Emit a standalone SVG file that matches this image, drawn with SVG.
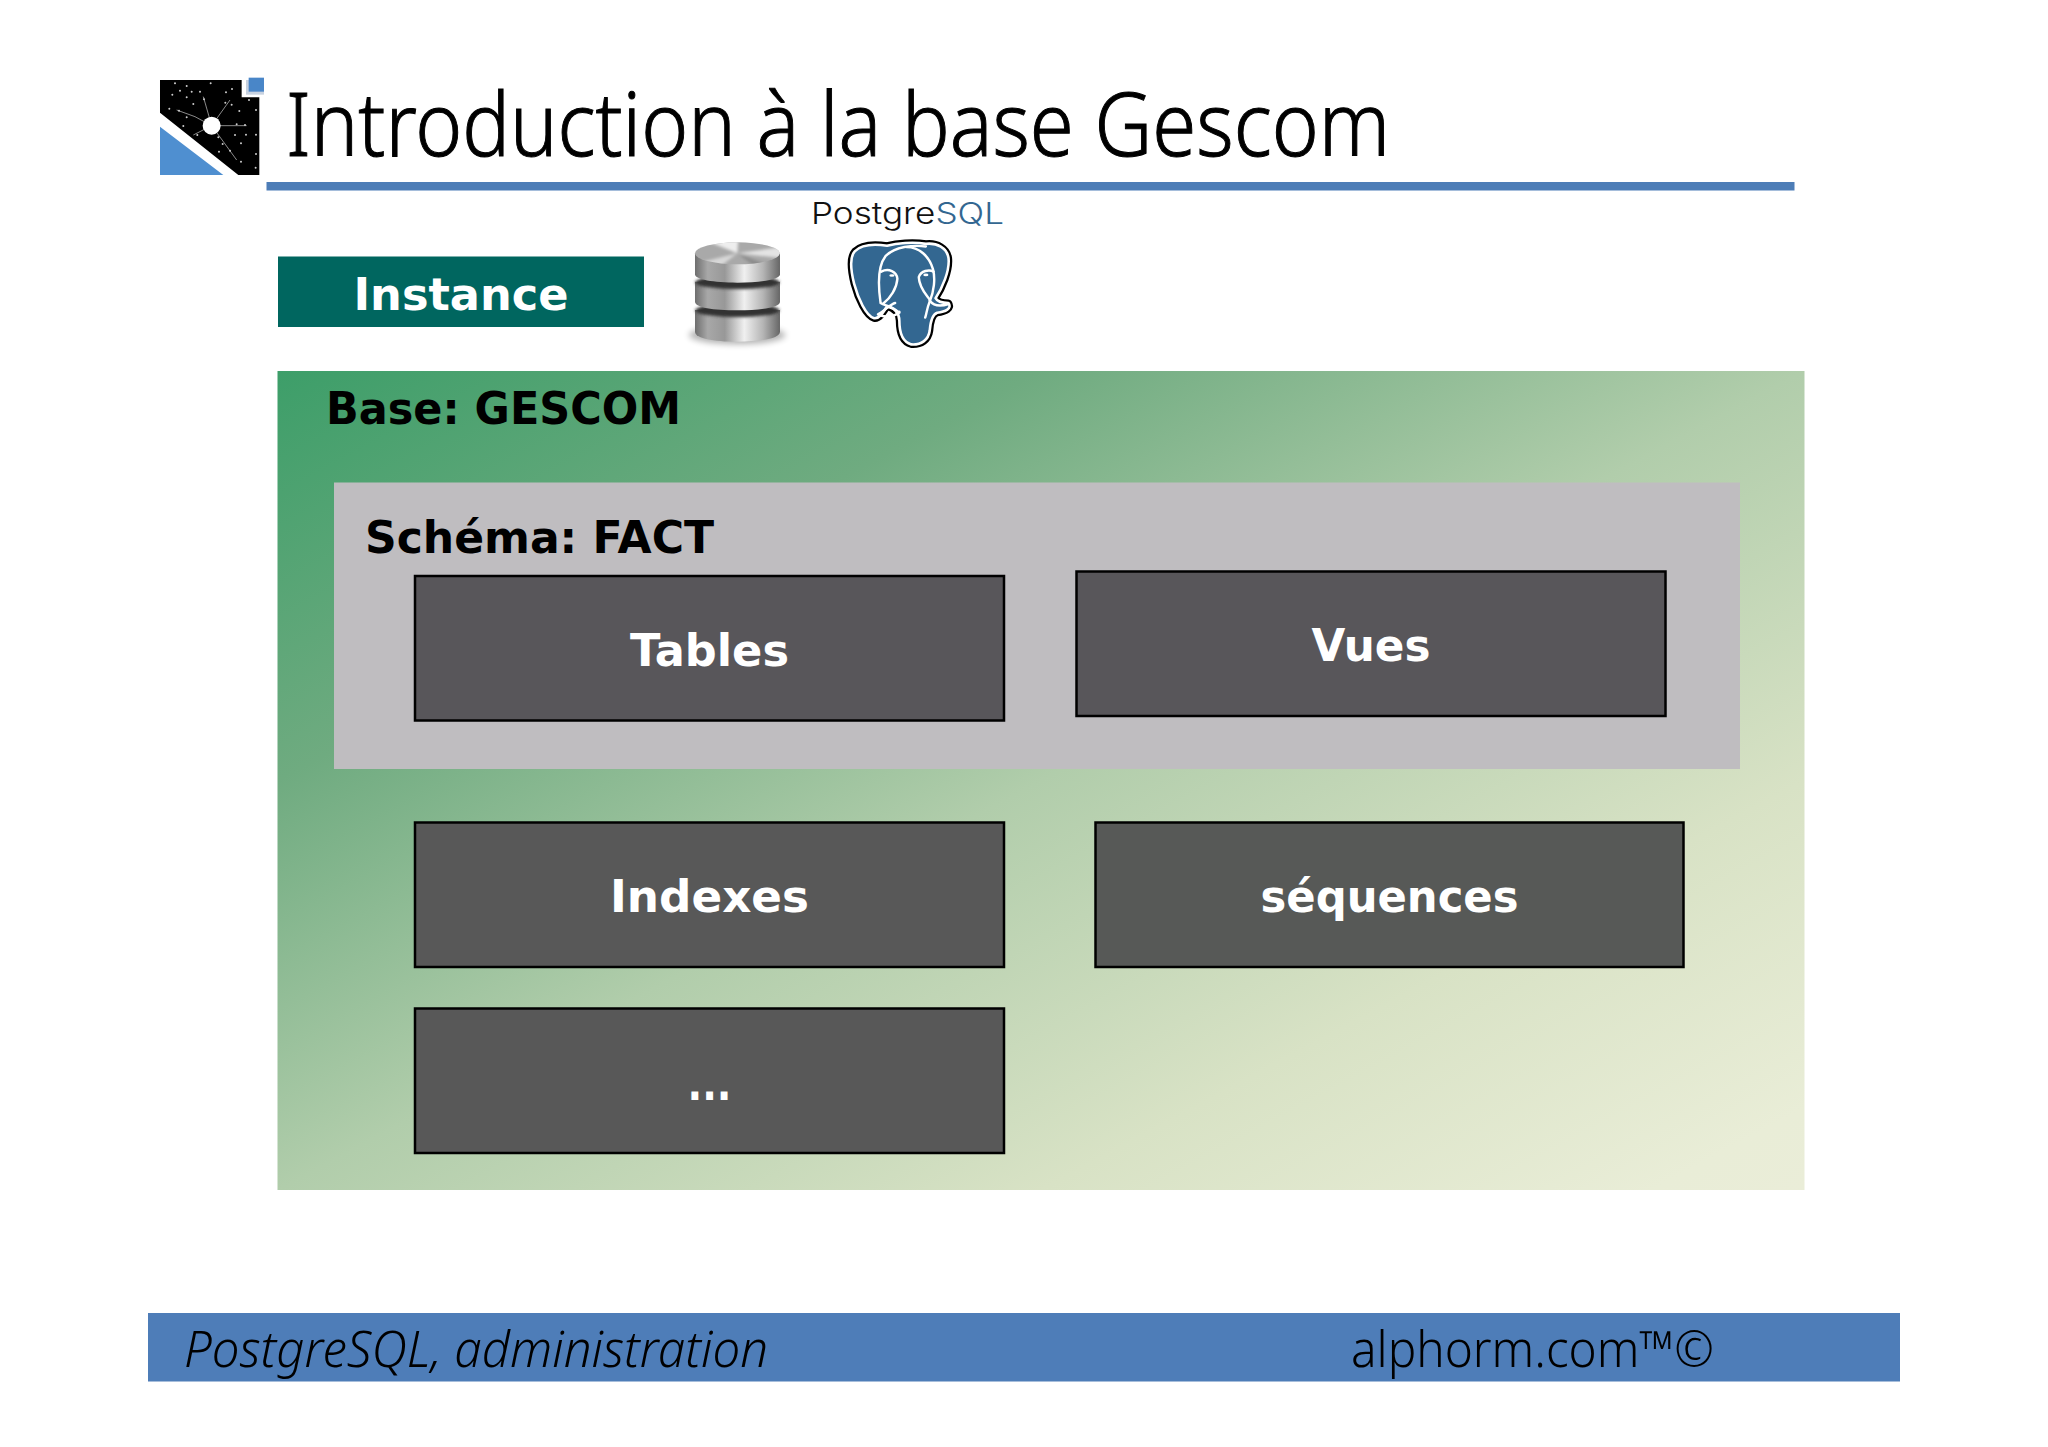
<svg xmlns="http://www.w3.org/2000/svg" width="2048" height="1447" viewBox="0 0 2048 1447">
<style>
.lbl{font-family:"DejaVu Sans",Verdana,sans-serif;font-weight:700;font-size:44px;fill:#fff;text-anchor:middle}
.hd{font-family:"DejaVu Sans",Verdana,sans-serif;font-weight:700;font-size:44px;fill:#000}
.box{stroke:#000;stroke-width:2.5}
.ft{font-family:"Noto Sans","Open Sans",sans-serif;font-size:50px;font-weight:300;fill:#000}
.inner{fill:none;stroke:#fff;stroke-width:7.500;stroke-linecap:round;stroke-linejoin:round}
</style>
<defs>
<linearGradient id="panel" x1="0" y1="0" x2="1" y2="1">
<stop offset="0" stop-color="#3d9e69"/><stop offset=".25" stop-color="#6fab80"/><stop offset=".5" stop-color="#b1cdab"/><stop offset=".75" stop-color="#d8e2c5"/><stop offset=".95" stop-color="#e9edd7"/><stop offset="1" stop-color="#eaedd8"/>
</linearGradient>
<linearGradient id="metal" x1="0" y1="0" x2="1" y2="0">
<stop offset="0" stop-color="#6e6e6e"/><stop offset=".15" stop-color="#a8a8a8"/><stop offset=".35" stop-color="#989898"/><stop offset=".58" stop-color="#f0f0f0"/><stop offset=".8" stop-color="#b5b5b5"/><stop offset="1" stop-color="#666"/>
</linearGradient>
<path id="elephant-shape" d="M140 28C100 22 60 25 40 45C22 65 28 105 38 145C50 190 75 245 100 252C115 255 128 235 140 215C165 222 178 235 178 260C178 290 185 325 215 333C245 335 268 320 272 290C274 265 280 240 295 235C320 232 342 222 330 205C305 205 295 200 290 190C310 160 335 105 330 65C325 35 295 18 260 22C220 15 170 20 140 28Z"/>
<clipPath id="lidclip"><ellipse cx="172" cy="55" rx="127" ry="33"/></clipPath>
<filter id="soft" x="-20%" y="-20%" width="140%" height="140%"><feGaussianBlur stdDeviation="1"/></filter>
<filter id="soft2" x="-20%" y="-20%" width="140%" height="140%"><feGaussianBlur stdDeviation="4"/></filter>
<filter id="shadow" x="-20%" y="-100%" width="140%" height="300%"><feGaussianBlur stdDeviation="10"/></filter>
</defs>
<rect width="2048" height="1447" fill="#fff"/>

<g id="corner-logo" transform="translate(140 60) scale(.3333)" filter="url(#soft)">
<polygon points="60,60 305,60 305,112 358,112 358,345 295,345 60,158" fill="#000"/>
<polygon points="60,200 250,345 60,345" fill="#4f8fd0"/>
<rect x="318" y="60" width="54" height="44" fill="#c8d2e0"/>
<rect x="326" y="53" width="46" height="42" fill="#4a86c8"/>
<g stroke="#8a8a8a" stroke-width="3" fill="none">
<path d="M215 197L190 110M215 197L165 170L110 150M215 197L270 120M215 197H320M215 197L290 300M215 197L160 225"/>
</g>
<circle cx="215" cy="197" r="27" fill="#fff"/>
<g fill="#ccc">
<circle cx="105" cy="70" r="3"/><circle cx="140" cy="78" r="3"/><circle cx="212" cy="70" r="3"/><circle cx="120" cy="92" r="3"/><circle cx="155" cy="95" r="3"/><circle cx="180" cy="95" r="3"/><circle cx="97" cy="104" r="3"/><circle cx="258" cy="97" r="3"/><circle cx="276" cy="87" r="3"/><circle cx="140" cy="112" r="3"/><circle cx="192" cy="118" r="3"/><circle cx="160" cy="132" r="3"/><circle cx="256" cy="128" r="3"/><circle cx="275" cy="134" r="3"/><circle cx="327" cy="120" r="3"/><circle cx="88" cy="146" r="3"/><circle cx="117" cy="152" r="3"/><circle cx="298" cy="153" r="3"/><circle cx="348" cy="150" r="3"/><circle cx="140" cy="172" r="3"/><circle cx="290" cy="193" r="3"/><circle cx="315" cy="195" r="3"/><circle cx="130" cy="198" r="3"/><circle cx="172" cy="225" r="3"/><circle cx="285" cy="225" r="3"/><circle cx="318" cy="224" r="3"/><circle cx="348" cy="224" r="3"/><circle cx="235" cy="232" r="3"/><circle cx="248" cy="252" r="3"/><circle cx="303" cy="250" r="3"/><circle cx="237" cy="275" r="3"/><circle cx="270" cy="272" r="3"/><circle cx="348" cy="282" r="3"/><circle cx="303" cy="305" r="3"/><circle cx="347" cy="323" r="3"/>
</g>
</g>

<g id="title">
<text x="286" y="156" font-family="'Noto Sans','Open Sans',sans-serif" font-weight="300" font-size="88" textLength="1104" lengthAdjust="spacingAndGlyphs" fill="#000" stroke="#000" stroke-width="1">Introduction à la base Gescom</text>
<rect x="266.500" y="182" width="1528" height="8.500" fill="#4d7db7"/>
</g>

<g id="instance">
<rect x="278" y="256.500" width="366" height="70.500" fill="#00665f"/>
<text class="lbl" x="461" y="310" textLength="215" lengthAdjust="spacingAndGlyphs">Instance</text>
</g>

<g id="database-icon" transform="translate(680 235) scale(.3333)">
<ellipse cx="172" cy="300" rx="145" ry="28" fill="#000" opacity=".3" filter="url(#shadow)"/>
<path d="M45 225V290C45 310 100 320 172 320S300 310 300 290V225Z" fill="url(#metal)"/>
<ellipse cx="172" cy="226" rx="127" ry="20" fill="#333" filter="url(#soft2)"/>
<path d="M45 140V200C45 217 100 226 172 226S300 217 300 200V140Z" fill="url(#metal)"/>
<ellipse cx="172" cy="142" rx="127" ry="20" fill="#333" filter="url(#soft2)"/>
<path d="M45 55V118C45 134 100 143 172 143S300 134 300 118V55Z" fill="url(#metal)"/>
<ellipse cx="172" cy="55" rx="127" ry="33" fill="#a9a9a9"/>
<g clip-path="url(#lidclip)" filter="url(#soft2)">
<polygon points="172,55 60,10 175,10" fill="#eee"/>
<polygon points="172,55 310,70 310,35" fill="#e4e4e4"/>
<polygon points="172,55 50,85 120,95" fill="#d8d8d8"/>
<polygon points="172,55 230,100 290,100" fill="#8c8c8c"/>
</g>
</g>

<g id="postgresql-logo">
<text x="811" y="224" font-family="Inter,Lato,sans-serif" font-weight="300" font-size="30" textLength="193" lengthAdjust="spacingAndGlyphs" fill="#111">Postgre<tspan fill="#336791">SQL</tspan></text>
<g transform="translate(840 235) scale(.3333) translate(180 175) scale(.97) translate(-180 -175)">
<use href="#elephant-shape" fill="#000" stroke="#000" stroke-width="22" stroke-linejoin="round"/>
<use href="#elephant-shape" fill="#336791" stroke="#fff" stroke-width="8" stroke-linejoin="round"/>
<path class="inner" d="M260 30C220 25 165 30 135 60C112 90 112 150 120 205C135 215 150 210 178 235"/>
<path class="inner" d="M200 32C240 32 270 60 282 100C290 130 285 170 272 200C262 225 262 240 258 250"/>
<path class="inner" d="M122 108C145 96 170 108 172 130C170 160 150 190 130 205"/>
<path class="inner" d="M238 125C245 105 270 100 284 108M238 125C240 160 262 180 272 195"/>
<path class="inner" d="M112 240C135 228 150 208 165 205M112 240C135 252 165 248 178 232"/>
<path class="inner" d="M272 198C285 215 305 216 330 208"/>
<ellipse cx="155" cy="120" rx="8" ry="4" fill="#fff"/>
<ellipse cx="260" cy="118" rx="8" ry="4" fill="#fff"/>
</g>
</g>

<g id="base-gescom">
<rect x="277.500" y="371" width="1527" height="819" fill="url(#panel)"/>
<text class="hd" x="326" y="424" textLength="355" lengthAdjust="spacingAndGlyphs">Base: GESCOM</text>
</g>

<g id="schema-fact">
<rect x="334" y="482.500" width="1406" height="286.500" fill="#bfbdc0"/>
<text class="hd" x="365" y="553" textLength="349" lengthAdjust="spacingAndGlyphs">Schéma: FACT</text>
</g>

<g id="tables">
<rect class="box" x="415" y="576" width="589" height="144.500" fill="#58565a"/>
<text class="lbl" x="709.500" y="666" textLength="159" lengthAdjust="spacingAndGlyphs">Tables</text>
</g>
<g id="vues">
<rect class="box" x="1076.500" y="571.500" width="589" height="144.500" fill="#58565a"/>
<text class="lbl" x="1371" y="661" textLength="119" lengthAdjust="spacingAndGlyphs">Vues</text>
</g>
<g id="indexes">
<rect class="box" x="415" y="822.500" width="589" height="144.500" fill="#585858"/>
<text class="lbl" x="709.500" y="912" textLength="199" lengthAdjust="spacingAndGlyphs">Indexes</text>
</g>
<g id="sequences">
<rect class="box" x="1095.500" y="822.500" width="588" height="144.500" fill="#575957"/>
<text class="lbl" x="1389.500" y="912" textLength="258" lengthAdjust="spacingAndGlyphs">séquences</text>
</g>
<g id="more">
<rect class="box" x="415" y="1008.500" width="589" height="144.500" fill="#585858"/>
<text class="lbl" x="709.500" y="1100" textLength="44" lengthAdjust="spacingAndGlyphs">...</text>
</g>

<g id="footer">
<rect x="148" y="1313" width="1752" height="68.500" fill="#4e7db8"/>
<text class="ft" x="184" y="1367" font-style="italic" textLength="584" lengthAdjust="spacingAndGlyphs">PostgreSQL, administration</text>
<text class="ft" x="1351" y="1367" textLength="363" lengthAdjust="spacingAndGlyphs">alphorm.com™©</text>
</g>
</svg>
